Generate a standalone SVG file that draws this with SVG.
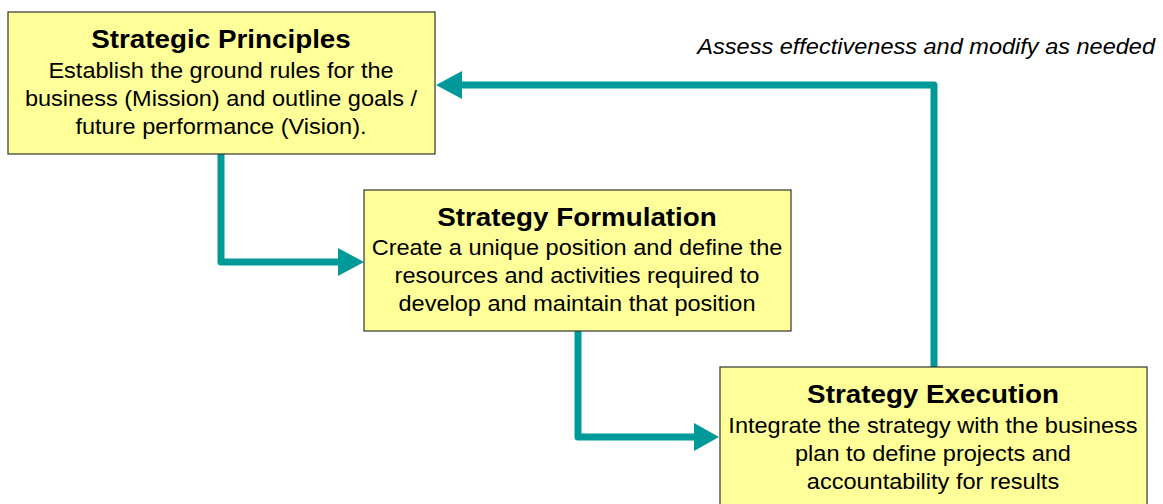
<svg xmlns="http://www.w3.org/2000/svg" width="1163" height="504" viewBox="0 0 1163 504">
  <defs>
    <style>
      .box { fill: #FFFF99; stroke: #333333; stroke-width: 1.2; }
      .title { font-family: "Liberation Sans", Arial, sans-serif; font-weight: bold; font-size: 26px; fill: #000; text-anchor: middle; }
      .body { font-family: "Liberation Sans", Arial, sans-serif; font-size: 22px; fill: #000; text-anchor: middle; }
      .note { font-family: "Liberation Sans", Arial, sans-serif; font-style: italic; font-size: 22px; fill: #000; text-anchor: end; }
      .conn { fill: none; stroke: #009999; stroke-width: 7; stroke-linejoin: round; stroke-linecap: round; }
      .head { fill: #009999; }
    </style>
  </defs>

  <rect width="1163" height="504" fill="#FFFFFF"/>

  <!-- connectors -->
  <g id="connectors">
    <path class="conn" d="M221,154 V262 H340"/>
    <polygon class="head" points="364,262 338,248 338,276"/>
    <path class="conn" d="M578,331 V437 H696"/>
    <polygon class="head" points="719,437 694,423 694,451"/>
    <path class="conn" d="M934,367 V85 H460"/>
    <polygon class="head" points="436,85 462,71 462,99"/>
    <g transform="translate(1155,0) scale(1.07,1)">
      <text class="note" x="0" y="54">Assess effectiveness and modify as needed</text>
    </g>
  </g>

  <g id="strategic-principles">
    <rect class="box" x="8" y="12" width="427" height="142"/>
    <g transform="translate(221,0) scale(1.07,1)">
      <text class="title" x="0" y="48">Strategic Principles</text>
      <text class="body" x="0" y="78">Establish the ground rules for the</text>
      <text class="body" x="0" y="106">business (Mission) and outline goals /</text>
      <text class="body" x="0" y="134">future performance (Vision).</text>
    </g>
  </g>

  <g id="strategy-formulation">
    <rect class="box" x="364" y="190" width="427" height="141"/>
    <g transform="translate(577,0) scale(1.07,1)">
      <text class="title" x="0" y="226">Strategy Formulation</text>
      <text class="body" x="0" y="255">Create a unique position and define the</text>
      <text class="body" x="0" y="283">resources and activities required to</text>
      <text class="body" x="0" y="311">develop and maintain that position</text>
    </g>
  </g>

  <g id="strategy-execution">
    <rect class="box" x="720" y="367" width="427" height="150"/>
    <g transform="translate(933,0) scale(1.07,1)">
      <text class="title" x="0" y="403">Strategy Execution</text>
      <text class="body" x="0" y="433">Integrate the strategy with the business</text>
      <text class="body" x="0" y="461">plan to define projects and</text>
      <text class="body" x="0" y="489">accountability for results</text>
    </g>
  </g>
</svg>
